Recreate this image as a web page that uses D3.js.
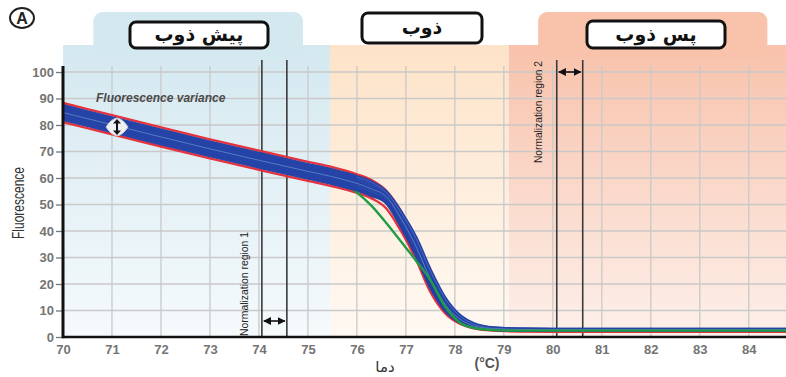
<!doctype html>
<html lang="fa">
<head>
<meta charset="utf-8">
<title>Melt curve</title>
<script src="https://d3js.org/d3.v7.min.js"></script>
<style>
  body { margin: 0; background: #fff; }
  svg { display: block; }
  .tick text { font-family: "Liberation Sans", Arial, sans-serif; font-weight: bold; font-size: 13px; fill: #747474; }
</style>
</head>
<body>
<div id="chart"></div>
<script>
// temperatures (°C) where the curves were read
var temps = [70, 71, 72, 73, 74, 75, 75.5, 76, 76.3, 76.6, 76.9, 77.2, 77.5, 77.8, 78.1, 78.4, 78.8, 79.3, 80, 82, 84.8];

var redTop    = [88.3, 83.7, 79.1, 74.6, 70.3, 66.1, 64.1, 61.4, 59.2, 55.2, 47.5, 36.5, 24.0, 13.5, 7.0, 4.0, 2.9, 2.6, 2.5, 2.5, 2.5];
var blue1     = [87.1, 82.5, 77.9, 73.4, 69.1, 64.9, 62.9, 60.4, 58.3, 54.6, 47.0, 37.5, 25.0, 14.5, 8.0, 4.8, 3.3, 2.9, 2.8, 2.8, 2.8];
var blue2     = [85.9, 81.3, 76.7, 72.2, 67.9, 63.7, 61.7, 59.2, 57.1, 53.9, 46.0, 36.0, 23.5, 13.3, 7.3, 4.4, 3.2, 2.9, 2.8, 2.8, 2.8];
var blue3     = [84.7, 80.1, 75.5, 71.0, 66.7, 62.5, 60.5, 58.0, 55.9, 53.0, 44.8, 34.5, 22.0, 12.3, 6.8, 4.1, 3.1, 2.8, 2.7, 2.7, 2.7];
var blue4     = [83.5, 78.9, 74.3, 69.8, 65.5, 61.3, 59.3, 56.8, 54.7, 52.0, 43.5, 33.0, 20.5, 11.3, 6.2, 3.9, 3.0, 2.8, 2.7, 2.7, 2.7];
var blue5     = [82.3, 77.7, 73.1, 68.6, 64.3, 60.1, 58.1, 55.6, 53.5, 50.8, 42.0, 31.5, 19.0, 10.3, 5.7, 3.7, 2.9, 2.7, 2.6, 2.6, 2.6];
var redBottom = [81.1, 76.5, 71.9, 67.4, 63.1, 58.9, 56.9, 54.4, 52.3, 48.5, 40.0, 29.5, 17.0, 9.0, 5.0, 3.2, 2.4, 2.1, 2.0, 2.0, 2.0];
var green     = [84.5, 79.9, 75.3, 70.8, 66.5, 62.3, 60.2, 54.5, 49.5, 43.0, 36.0, 29.0, 21.5, 11.5, 5.5, 3.4, 2.6, 2.4, 2.4, 2.4, 2.4];

var xTicks = [70, 71, 72, 73, 74, 75, 76, 77, 78, 79, 80, 81, 82, 83, 84];
var yTicks = [0, 10, 20, 30, 40, 50, 60, 70, 80, 90, 100];

// melting phases, in °C
var phases = [
  { from: 70, to: 75.45, tabFrom: 70.62, tabTo: 74.9, label: "پیش ذوب", top: "#d4e8f0", bottom: "#f5fafc" },
  { from: 75.45, to: 79.1, tabFrom: null, tabTo: null, label: "ذوب", top: "#fde3c8", bottom: "#fff9f3" },
  { from: 79.1, to: 84.76, tabFrom: 79.7, tabTo: 84.38, label: "پس ذوب", top: "#f8c2ab", bottom: "#fdf0ea" }
];
var normRegion1 = [74.06, 74.57];
var normRegion2 = [80.08, 80.61];

var width = 786, height = 377;
var x = d3.scaleLinear().domain([70, 84.76]).range([63, 786]);
var y = d3.scaleLinear().domain([0, 100]).range([337, 72]);

var svg = d3.select("#chart").append("svg")
  .attr("width", width)
  .attr("height", height);

var defs = svg.append("defs");
phases.forEach(function (p, i) {
  var g = defs.append("linearGradient").attr("id", "bg" + i)
    .attr("x1", 0).attr("y1", 0).attr("x2", 0).attr("y2", 1);
  g.append("stop").attr("offset", "0%").attr("stop-color", p.top);
  g.append("stop").attr("offset", "100%").attr("stop-color", p.bottom);
});
defs.append("marker").attr("id", "arr")
  .attr("viewBox", "0 0 10 10").attr("refX", 9).attr("refY", 5)
  .attr("markerWidth", 5).attr("markerHeight", 5).attr("orient", "auto-start-reverse")
  .append("path").attr("d", "M0,0L10,5L0,10z").attr("fill", "#111");

// backgrounds
var bg = svg.append("g");
phases.forEach(function (p, i) {
  bg.append("rect")
    .attr("x", x(p.from)).attr("y", 45)
    .attr("width", x(p.to) - x(p.from)).attr("height", 337 - 45)
    .attr("fill", "url(#bg" + i + ")");
  if (p.tabFrom !== null) {
    bg.append("rect")
      .attr("x", x(p.tabFrom)).attr("y", 12)
      .attr("width", x(p.tabTo) - x(p.tabFrom)).attr("height", 45)
      .attr("rx", 9)
      .attr("fill", p.top);
  }
});

// grid
var grid = svg.append("g");
grid.selectAll(".vg").data(xTicks.slice(1)).enter().append("line")
  .attr("x1", function (d) { return x(d); }).attr("x2", function (d) { return x(d); })
  .attr("y1", 66).attr("y2", 337)
  .attr("stroke", "#c9c9c9").attr("stroke-width", 1.3);
grid.selectAll(".hg").data(yTicks.slice(1)).enter().append("line")
  .attr("x1", 63).attr("x2", 786)
  .attr("y1", function (d) { return y(d); }).attr("y2", function (d) { return y(d); })
  .attr("stroke", "#c9c9c9").attr("stroke-width", 1.3);

// normalization lines
var norm = svg.append("g");
normRegion1.concat(normRegion2).forEach(function (v) {
  norm.append("line")
    .attr("x1", x(v)).attr("x2", x(v)).attr("y1", 60).attr("y2", 337)
    .attr("stroke", "#3a3a3a").attr("stroke-width", 1.6);
});
norm.append("line")
  .attr("x1", x(normRegion1[0]) + 2).attr("x2", x(normRegion1[1]) - 2)
  .attr("y1", 321).attr("y2", 321)
  .attr("stroke", "#111").attr("stroke-width", 1.6)
  .attr("marker-start", "url(#arr)").attr("marker-end", "url(#arr)");
norm.append("line")
  .attr("x1", x(normRegion2[0]) + 2).attr("x2", x(normRegion2[1]) - 2)
  .attr("y1", 72).attr("y2", 72)
  .attr("stroke", "#111").attr("stroke-width", 1.6)
  .attr("marker-start", "url(#arr)").attr("marker-end", "url(#arr)");

svg.append("text")
  .attr("transform", "translate(" + 248 + "," + 336 + ") rotate(-90)")
  .attr("font-family", "'Liberation Sans Narrow', 'Arial Narrow', sans-serif")
  .attr("font-size", 11.5).attr("fill", "#222")
  .attr("textLength", 104).attr("lengthAdjust", "spacingAndGlyphs")
  .text("Normalization region 1");
svg.append("text")
  .attr("transform", "translate(" + 542 + "," + 163 + ") rotate(-90)")
  .attr("font-family", "'Liberation Sans Narrow', 'Arial Narrow', sans-serif")
  .attr("font-size", 11.5).attr("fill", "#222")
  .attr("textLength", 102).attr("lengthAdjust", "spacingAndGlyphs")
  .text("Normalization region 2");

// curves
var line = d3.line()
  .x(function (d, i) { return x(temps[i]); })
  .y(function (d) { return y(d); })
  .curve(d3.curveMonotoneX);

var blues = [blue1, blue2, blue3, blue4, blue5];
var series = [
  { v: redTop, c: "#e5323c", w: 2.4 },
  { v: redBottom, c: "#e5323c", w: 2.4 }
].concat(blues.map(function (b, i) {
  return { v: b, c: i % 2 ? "#2848ab" : "#2540a3", w: 3.8 };
})).concat([
  { v: blue3, c: "#6a92d0", w: 0.7 },
  { v: blue1, c: "#5a80c6", w: 0.6 },
  { v: green, c: "#1f9c45", w: 2.4 }
]);
svg.append("g").selectAll("path").data(series).enter().append("path")
  .attr("d", function (d) { return line(d.v); })
  .attr("fill", "none")
  .attr("stroke", function (d) { return d.c; })
  .attr("stroke-width", function (d) { return d.w; });
// keep the green hidden inside the band before it splits off
svg.append("g").selectAll("path").data(blues).enter().append("path")
  .attr("d", function (d) { return line(d.slice(0, 8)); })
  .attr("fill", "none").attr("stroke", "#2644a7").attr("stroke-width", 3.8);
svg.append("path").attr("d", line(blue3.slice(0, 8)))
  .attr("fill", "none").attr("stroke", "#6a92d0").attr("stroke-width", 0.7);

// axes
var xAxis = svg.append("g").attr("transform", "translate(0,337)")
  .call(d3.axisBottom(x).tickValues(xTicks).tickSize(0).tickPadding(8));
xAxis.select(".domain").remove();
var yAxis = svg.append("g").attr("transform", "translate(63,0)")
  .call(d3.axisLeft(y).tickValues(yTicks).tickSize(7).tickPadding(2));
yAxis.select(".domain").remove();
yAxis.selectAll(".tick line").attr("stroke", "#777").attr("stroke-width", 1.3);

svg.append("line").attr("x1", 63).attr("x2", 786).attr("y1", 337).attr("y2", 337)
  .attr("stroke", "#111").attr("stroke-width", 2.6);
svg.append("line").attr("x1", 63).attr("x2", 63).attr("y1", 66).attr("y2", 338.3)
  .attr("stroke", "#111").attr("stroke-width", 3);

// variance marker
svg.append("text").attr("x", 96).attr("y", 102)
  .attr("font-family", "'Liberation Sans', Arial, sans-serif")
  .attr("font-size", 12).attr("font-weight", "bold").attr("font-style", "italic")
  .attr("fill", "#4a4a4a")
  .text("Fluorescence variance");
var vm = svg.append("g").attr("transform", "translate(117,127)");
vm.append("path").attr("d", "M-11,0Q-6,-8 0,-9Q6,-8 11,0Q6,8 0,9Q-6,8 -11,0Z")
  .attr("fill", "#eef0f4").attr("stroke", "#c8c8cc").attr("stroke-width", 1);
vm.append("path")
  .attr("d", "M0,-8L-4,-3.5L-1,-3.5L-1,3.5L-4,3.5L0,8L4,3.5L1,3.5L1,-3.5L4,-3.5Z")
  .attr("fill", "#111");

// phase labels
var boxes = [
  { p: phases[0], x0: 130, x1: 268, y0: 22, y1: 48 },
  { p: phases[1], x0: 362, x1: 482, y0: 13, y1: 43 },
  { p: phases[2], x0: 587, x1: 725, y0: 21, y1: 48 }
];
boxes.forEach(function (b) {
  svg.append("rect")
    .attr("x", b.x0).attr("y", b.y0)
    .attr("width", b.x1 - b.x0).attr("height", b.y1 - b.y0)
    .attr("rx", 6).attr("fill", "#fff").attr("stroke", "#111").attr("stroke-width", 3);
  svg.append("text")
    .attr("x", (b.x0 + b.x1) / 2).attr("y", (b.y0 + b.y1) / 2 + 6)
    .attr("text-anchor", "middle").attr("direction", "rtl")
    .attr("font-family", "'DejaVu Sans', sans-serif").attr("font-weight", "bold")
    .attr("font-size", 19).attr("fill", "#111")
    .text(b.p.label);
});

// circled A
svg.append("ellipse").attr("cx", 22).attr("cy", 18).attr("rx", 12).attr("ry", 10)
  .attr("fill", "#fff").attr("stroke", "#222").attr("stroke-width", 2);
svg.append("text").attr("x", 22).attr("y", 24).attr("text-anchor", "middle")
  .attr("font-family", "'Liberation Sans', Arial, sans-serif").attr("font-weight", "bold")
  .attr("font-size", 16).attr("fill", "#222").text("A");

// axis titles
svg.append("text")
  .attr("transform", "translate(24,203) rotate(-90)")
  .attr("text-anchor", "middle")
  .attr("font-family", "'Liberation Sans Narrow', 'Arial Narrow', sans-serif")
  .attr("font-size", 16).attr("fill", "#333")
  .attr("textLength", 72).attr("lengthAdjust", "spacingAndGlyphs")
  .text("Fluorescence");
svg.append("text").attr("x", 385).attr("y", 372).attr("text-anchor", "middle")
  .attr("direction", "rtl")
  .attr("font-family", "'DejaVu Sans', sans-serif").attr("font-size", 15).attr("fill", "#333")
  .text("دما");
svg.append("text").attr("x", 487).attr("y", 368).attr("text-anchor", "middle")
  .attr("font-family", "'Liberation Sans', Arial, sans-serif").attr("font-weight", "bold")
  .attr("font-size", 14).attr("fill", "#555")
  .text("(°C)");
</script>
</body>
</html>
